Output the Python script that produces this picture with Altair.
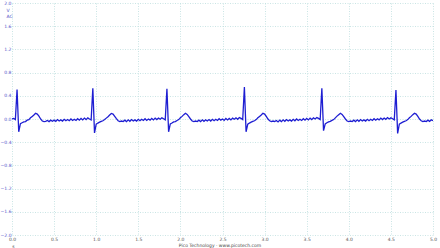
import altair as alt
import pandas as pd

# ECG trace, sampled every 0.02 s (values in V)
beat1 = [0.00, 0.01, -0.01, 0.51, -0.22, -0.08, -0.065, -0.05, -0.045, -0.02,
         -0.01, 0.02, 0.045, 0.07, 0.10, 0.085, 0.05, 0.0, -0.035, -0.045,
         -0.04, -0.025, -0.045, -0.02, -0.04, -0.02, -0.04, -0.01, -0.035, -0.015,
         -0.035, -0.005, -0.03, -0.01, -0.03, 0.0, -0.025, -0.005, -0.025, 0.005,
         -0.02, 0.01, -0.015, 0.015, -0.01, 0.02, 0.0, -0.015]
beat2 = [0.53, -0.24, -0.09, -0.07, -0.055, -0.04, -0.03, -0.01, 0.015, 0.04,
         0.07, 0.095, 0.085, 0.045, 0.005, -0.03, -0.045, -0.035, -0.045, -0.02,
         -0.045, -0.015, -0.04, -0.01, -0.035, -0.015, -0.035, -0.005, -0.03, -0.005,
         -0.025, 0.005, -0.025, 0.0, -0.02, 0.01, -0.015, 0.015, -0.01, 0.015,
         -0.005, 0.02, 0.005, -0.015]
beat3 = [0.52, -0.22, -0.085, -0.07, -0.05, -0.045, -0.025, -0.01, 0.02, 0.045,
         0.075, 0.10, 0.08, 0.04, 0.0, -0.035, -0.045, -0.035, -0.045, -0.02,
         -0.045, -0.015, -0.04, -0.015, -0.035, -0.01, -0.035, -0.005, -0.03, -0.005,
         -0.025, 0.005, -0.02, 0.0, -0.025, 0.01, -0.015, 0.01, -0.015, 0.015,
         -0.005, 0.02, -0.005, 0.025, 0.01, -0.01]
beat4 = [0.55, -0.22, -0.09, -0.07, -0.055, -0.04, -0.03, -0.01, 0.02, 0.045,
         0.07, 0.10, 0.085, 0.045, 0.0, -0.03, -0.045, -0.035, -0.045, -0.025,
         -0.05, -0.02, -0.045, -0.015, -0.04, -0.01, -0.035, -0.015, -0.035, -0.005,
         -0.03, 0.0, -0.025, -0.005, -0.025, 0.005, -0.02, 0.01, -0.015, 0.015,
         -0.01, 0.02, 0.0, 0.025, 0.01, -0.01]
beat5 = [0.53, -0.20, -0.085, -0.065, -0.05, -0.04, -0.025, -0.01, 0.02, 0.05,
         0.075, 0.10, 0.08, 0.04, 0.0, -0.035, -0.045, -0.035, -0.045, -0.02,
         -0.045, -0.015, -0.04, -0.01, -0.035, -0.015, -0.035, -0.005, -0.03, -0.005,
         -0.025, 0.005, -0.02, 0.005, -0.015, 0.015, -0.01, 0.015, -0.005, 0.025,
         0.0, 0.02, 0.005, -0.015]
beat6 = [0.50, -0.25, -0.09, -0.07, -0.055, -0.04, -0.03, -0.01, 0.02, 0.045,
         0.075, 0.10, 0.085, 0.045, 0.0, -0.03, -0.045, -0.035, -0.045, -0.02,
         -0.04, -0.015, -0.03]

volts = beat1 + beat2 + beat3 + beat4 + beat5 + beat6
sample_step = 0.02
seconds = [round(i * sample_step, 2) for i in range(len(volts))]

x_ticks = [0.0, 0.5, 1.0, 1.5, 2.0, 2.5, 3.0, 3.5, 4.0, 4.5, 5.0]
y_ticks = [-2.0, -1.6, -1.2, -0.8, -0.4, 0.0, 0.4, 0.8, 1.2, 1.6, 2.0]
footer = "Pico Technology · www.picotech.com"

df = pd.DataFrame({"t": seconds, "v": volts})

FONT = "DejaVu Sans"
GRID = "#bcdede"

line = alt.Chart(df).mark_line(color="#1e1ed2", strokeWidth=1.3, clip=True).encode(
    x=alt.X("t:Q", scale=alt.Scale(domain=[0, 5], nice=False, zero=False),
            axis=alt.Axis(values=x_ticks, format=".1f", title="s",
                          labelFontSize=4.5, labelColor="#555555", labelFont=FONT,
                          labelPadding=1, ticks=False, domain=False,
                          grid=True, gridColor=GRID, gridDash=[1, 1.5], gridWidth=0.8,
                          titleFontSize=4.5, titleFontWeight="normal", titleColor="#555555",
                          titleFont=FONT, titleX=1, titleY=8, titleAlign="center",
                          titleBaseline="top", labelFlush=False)),
    y=alt.Y("v:Q", scale=alt.Scale(domain=[-2, 2], nice=False, zero=False),
            axis=alt.Axis(values=y_ticks, format=".1f", title=["V", "AC"],
                          labelFontSize=4.5, labelColor="#5050c8", labelFont=FONT,
                          labelPadding=1, ticks=False, domain=False,
                          grid=True, gridColor=GRID, gridDash=[1, 1.5], gridWidth=0.8,
                          titleFontSize=4.5, titleFontWeight="normal", titleColor="#5050c8",
                          titleFont=FONT, titleAngle=0, titleX=-6, titleY=4,
                          titleAlign="left", titleBaseline="top", labelFlush=False)),
)

foot = alt.Chart(pd.DataFrame({"label": [footer]})).mark_text(
    fontSize=4.5, font=FONT, color="#444444", align="center", baseline="middle"
).encode(text="label:N", x=alt.value(208), y=alt.value(242.5))

chart = alt.layer(line, foot).properties(
    width=421, height=232,
    padding={"left": 12, "top": 3, "right": 7, "bottom": 13},
    autosize=alt.AutoSizeParams(type="none"),
    background="white",
).configure_view(stroke=None)

chart.save("out.html", embed_options={"renderer": "svg", "actions": False})
